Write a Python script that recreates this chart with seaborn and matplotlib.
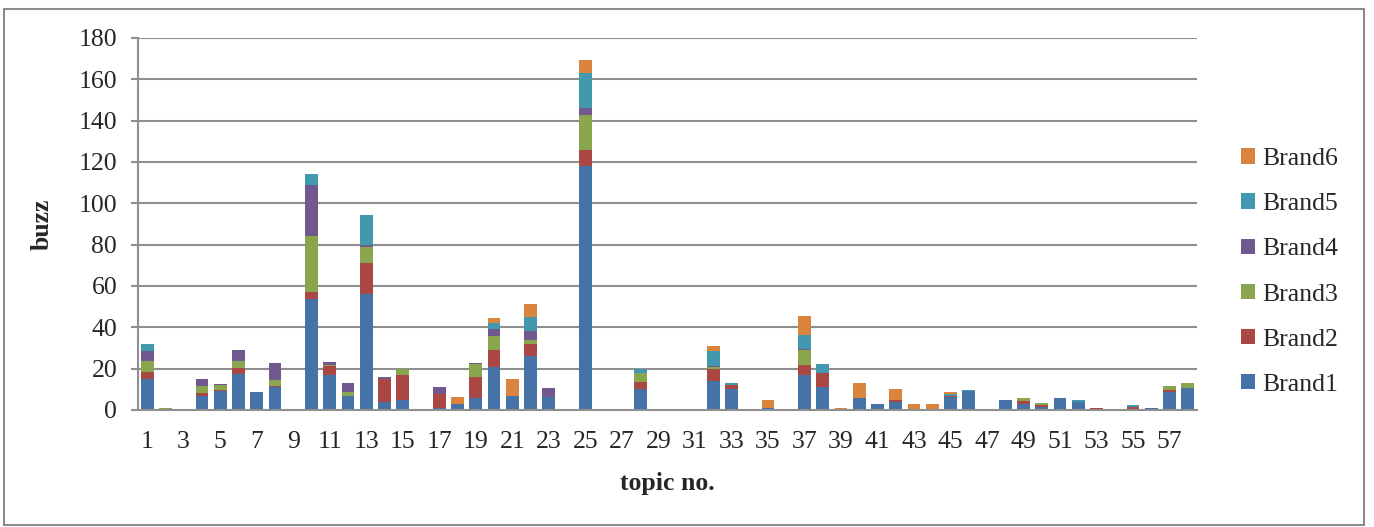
import numpy as np
import pandas as pd
import matplotlib
matplotlib.use("Agg")
import matplotlib.pyplot as plt
from matplotlib.patches import Rectangle
import seaborn as sns

# Buzz volume per topic, split by brand
topics = list(range(1, 59))
brands = ["Brand1", "Brand2", "Brand3", "Brand4", "Brand5", "Brand6"]

brand1 = [15, 0, 0, 7, 9, 17.6, 8.7, 11, 0, 53.9,
          17, 6.6, 56, 3.7, 4.7, 0, 0.8, 2.7, 6, 20.8,
          6.6, 26, 6.5, 0, 117.9, 0, 0, 10, 0, 0,
          0, 13.8, 10.2, 0, 1, 0, 16.9, 11, 0, 5.6,
          3, 3.9, 0, 0, 6.2, 9.1, 0, 4.6, 3.1, 1.6,
          5.7, 3.9, 0, 0, 0.7, 0.8, 8.8, 10.7]
brand2 = [3.5, 0, 0, 1, 0.8, 2.7, 0, 0.6, 0, 3,
          4.2, 0, 15, 11.3, 12.1, 0, 6.8, 0, 10, 8.1,
          0, 5.8, 0, 0, 7.7, 0, 0, 3.7, 0, 0,
          0, 6, 2.1, 0, 0, 0, 4.7, 6.7, 0, 0,
          0, 0.8, 0, 0, 0.5, 0, 0, 0, 1.3, 0.7,
          0, 0, 0.8, 0, 0.6, 0, 1, 0]
brand3 = [5.2, 1, 0, 3.7, 2.2, 3.4, 0, 3.1, 0, 27.1,
          0.8, 1.9, 8, 0, 3.2, 0, 0, 0, 6.1, 6.7,
          0, 1.9, 0, 0, 17.3, 0, 0, 4, 0, 0,
          0, 0.8, 0, 0, 0, 0, 7.3, 0, 0, 0,
          0, 0, 0, 0, 0, 0, 0, 0, 1.3, 1.3,
          0, 0, 0, 0, 0, 0, 1.9, 2.5]
brand4 = [4.8, 0, 0, 3.4, 0.7, 5.3, 0, 8, 0, 24.7,
          1, 4.4, 0.7, 0.8, 0, 0, 3.4, 0, 0.8, 3.6,
          0, 4.5, 4.3, 0, 3.1, 0, 0, 0, 0, 0,
          0, 0.8, 0, 0, 0, 0, 0.8, 0, 0, 0,
          0, 0, 0, 0, 0, 0, 0, 0, 0, 0,
          0, 0, 0, 0, 0, 0, 0, 0]
brand5 = [3.5, 0, 0, 0, 0, 0, 0, 0, 0, 5.3,
          0, 0, 14.5, 0, 0, 0, 0, 0, 0, 2.9,
          0, 6.8, 0, 0, 16.9, 0, 0, 2.3, 0, 0,
          0, 7.3, 0.6, 0, 0, 0, 6.4, 4.4, 0, 0,
          0, 0, 0, 0, 1, 0.7, 0, 0, 0, 0,
          0, 0.7, 0, 0, 1.3, 0, 0, 0]
brand6 = [0, 0, 0, 0, 0, 0, 0, 0, 0, 0,
          0, 0, 0, 0, 0, 0, 0, 3.4, 0, 2.3,
          8.2, 6.1, 0, 0, 6.3, 0, 0, 0, 0, 0,
          0, 2.4, 0, 0, 4, 0, 9.2, 0, 1, 7.3,
          0, 5.3, 2.8, 2.8, 1, 0, 0, 0, 0, 0,
          0, 0, 0, 0, 0, 0, 0, 0]

series = [brand1, brand2, brand3, brand4, brand5, brand6]
colors = ["#4572A7", "#AA4643", "#89A54E", "#71588F", "#4198AF", "#DB843D"]
y_ticks = list(range(0, 181, 20))
x_tick_labels = [str(t) for t in topics[::2]]

df = pd.DataFrame({"topic": topics})
for name, vals in zip(brands, series):
    df[name] = vals

sns.set_theme(style="white")
plt.rcParams["font.family"] = ["Liberation Serif", "DejaVu Serif"]

fig = plt.figure(figsize=(13.74, 5.27), dpi=100)
ax = fig.add_axes([138 / 1374, 1 - 410 / 527, (1197 - 138) / 1374, (410 - 38) / 527])

grid_color = "#8f8f8f"
ax.set_axisbelow(True)
for v in y_ticks[1:]:
    ax.axhline(v, color=grid_color, lw=1.5, zorder=0)

bottom = np.zeros(len(topics))
for name, col in zip(brands, colors):
    vals = df[name].to_numpy(dtype=float)
    sns.barplot(data=df, x="topic", y=name, order=topics, color=col,
                width=0.7, bottom=bottom, ax=ax, label=name,
                saturation=1, linewidth=0, zorder=2)
    bottom = bottom + vals

ax.set_xlim(-0.5, len(topics) - 0.5)
ax.set_ylim(0, 180)
ax.set_yticks(y_ticks)
ax.set_yticklabels([str(v) for v in y_ticks], fontsize=18.5)
ax.set_xticks(range(0, len(topics), 2))
ax.set_xticklabels(x_tick_labels, fontsize=18.5)
ax.tick_params(axis="y", direction="out", length=5, width=1.5, color=grid_color, pad=10, left=True)
ax.tick_params(axis="x", length=0, pad=15)

for s in ["top", "right"]:
    ax.spines[s].set_visible(False)
for s in ["left", "bottom"]:
    ax.spines[s].set_color(grid_color)
    ax.spines[s].set_linewidth(1.5)

ax.set_xlabel("topic no.", fontsize=18.5, fontweight="bold", labelpad=14)
ax.set_ylabel("buzz", fontsize=18.5, fontweight="bold", labelpad=18)

handles, labels = ax.get_legend_handles_labels()
leg = ax.legend(handles[::-1], labels[::-1], loc="center left",
                bbox_to_anchor=(1241 / 1374, 1 - 272 / 527),
                bbox_transform=fig.transFigure, frameon=False,
                fontsize=18.5, handlelength=0.55, handleheight=0.55,
                handletextpad=0.28, labelspacing=0.9, borderpad=0, borderaxespad=0)

fig.patches.append(Rectangle((4 / 1374, 2 / 527), 1360 / 1374, 516 / 527,
                             transform=fig.transFigure, fill=False,
                             edgecolor="#8c8c8c", lw=1.5))

fig.savefig("out.png", dpi=100)
